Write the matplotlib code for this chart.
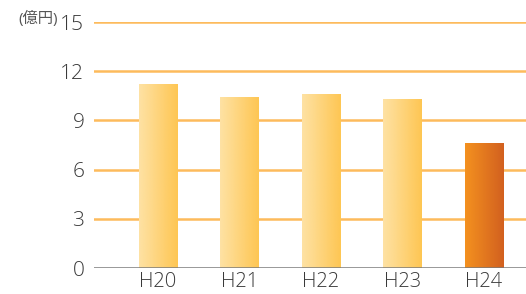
import numpy as np
import matplotlib
matplotlib.use('Agg')
import matplotlib.pyplot as plt
from matplotlib.colors import LinearSegmentedColormap

plt.rcParams['font.family'] = ['Open Sans', 'Noto Sans CJK JP', 'DejaVu Sans']

categories = ['H20', 'H21', 'H22', 'H23', 'H24']
values = [11.2, 10.4, 10.55, 10.25, 7.6]
highlight = [False, False, False, False, True]
yticks = [0, 3, 6, 9, 12, 15]

cmap_light = LinearSegmentedColormap.from_list('light', ['#FEE2A4', '#FEC653'])
cmap_dark = LinearSegmentedColormap.from_list('dark', ['#F4911F', '#D2601F'])

fig = plt.figure(figsize=(5.26, 2.94), dpi=100)
ax = fig.add_axes([94 / 526, 26 / 294, 432 / 526, 246 / 294])

x = np.arange(len(categories))
width = 0.47
grad = np.linspace(0, 1, 256).reshape(1, -1)
for xi, v, hl in zip(x, values, highlight):
    ax.imshow(grad, cmap=cmap_dark if hl else cmap_light, aspect='auto',
              extent=(xi - width / 2, xi + width / 2, 0, v), zorder=3)

ax.set_xlim(-0.785, 4.515)
ax.set_ylim(0, 15)
for t in yticks[1:]:
    ax.axhline(t, color='#FDBB5C', lw=1.8, zorder=1)
ax.axhline(0, color='#7A7A7A', lw=1.8, zorder=4)

for s in ax.spines.values():
    s.set_visible(False)
ax.set_yticks(yticks)
ax.set_yticklabels([str(t) for t in yticks], fontsize=15, color='#3a3a3a',
                   fontweight='light')
ax.set_xticks(x)
ax.set_xticklabels(categories, fontsize=14.5, color='#3a3a3a',
                   fontweight='light')
ax.tick_params(length=0)
ax.tick_params(axis='y', pad=7)
ax.tick_params(axis='x', pad=3)

fig.text(18 / 526, 1 - 19 / 294, '(億円)', fontsize=11, color='#555555',
         va='center', ha='left')

fig.savefig('out.png', dpi=100)
